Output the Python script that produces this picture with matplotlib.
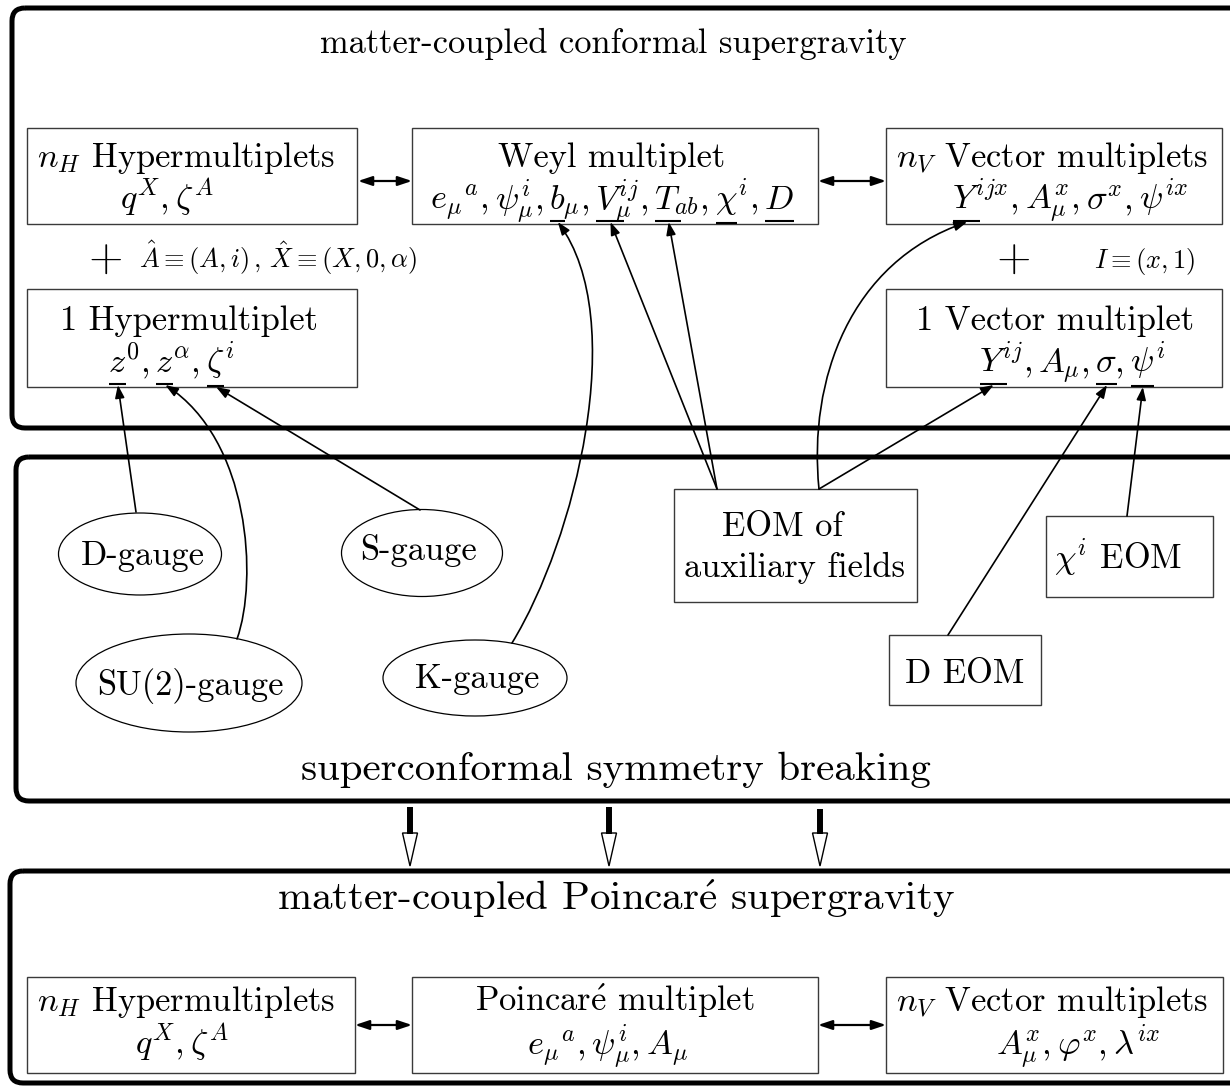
import matplotlib
matplotlib.use('Agg')
import matplotlib.pyplot as plt
from matplotlib.patches import FancyBboxPatch, Rectangle, Ellipse, FancyArrowPatch, Polygon
from matplotlib.path import Path

plt.rcParams['font.family'] = ['cmr10', 'DejaVu Serif']
plt.rcParams['mathtext.fontset'] = 'cm'
plt.rcParams['axes.unicode_minus'] = False

# ---------------- content ----------------
section_titles = ["matter-coupled conformal supergravity",
                  "superconformal symmetry breaking",
                  r"matter-coupled Poincar$\mathrm{\acute{e}}$ supergravity"]

top_box_titles = [r"$n_H$ Hypermultiplets", "Weyl multiplet", r"$n_V$ Vector multiplets",
                  "1 Hypermultiplet", "1 Vector multiplet"]
# field pieces: (tex, underlined base, key)
hyper_fields = [(r"$q^X,$", None, None), (r"$\zeta^A$", None, None)]
weyl_fields = [(r"$e_\mu{}^a,$", None, None), (r"$\psi^i_\mu,$", None, None),
               (r"$b_\mu,$", r"$b$", "b"), (r"$V^{ij}_\mu,$", r"$V$", "V"),
               (r"$T_{ab},$", r"$T$", "T"), (r"$\chi^i,$", r"$\chi$", "chi"),
               (r"$D$", r"$D$", "D")]
vector_fields = [(r"$Y^{ijx},$", r"$Y$", "Yx"), (r"$A^x_\mu,$", None, None),
                 (r"$\sigma^x,$", None, None), (r"$\psi^{ix}$", None, None)]
hyper1_fields = [(r"$z^0,$", r"$z$", "z0"), (r"$z^\alpha,$", r"$z$", "za"),
                 (r"$\zeta^i$", r"$\zeta$", "zeta")]
vector1_fields = [(r"$Y^{ij},$", r"$Y$", "Y"), (r"$A_\mu,$", None, None),
                  (r"$\sigma,$", r"$\sigma$", "sigma"), (r"$\psi^i$", r"$\psi$", "psi")]
index_notes = [r"$\hat{A}\equiv(A,i)\,,\,\hat{X}\equiv(X,0,\alpha)$", r"$I\equiv(x,1)$"]

gauge_labels = ["D-gauge", "S-gauge", "SU(2)-gauge", "K-gauge"]
eom_labels = [["EOM of", "auxiliary fields"], [r"$\chi^i$ EOM"], ["D EOM"]]

bottom_box_titles = [r"$n_H$ Hypermultiplets", r"Poincar$\mathrm{\acute{e}}$ multiplet",
                     r"$n_V$ Vector multiplets"]
bottom_fields = [r"$q^X, \zeta^A$", r"$e_\mu{}^a, \psi^i_\mu, A_\mu$",
                 r"$A^x_\mu, \varphi^x, \lambda^{ix}$"]

# ---------------- figure ----------------
W, H = 1230, 1086
fig = plt.figure(figsize=(W / 100, H / 100), dpi=100)
ax = fig.add_axes([0, 0, 1, 1])
ax.set_xlim(0, W)
ax.set_ylim(H, 0)
ax.axis('off')
renderer = fig.canvas.get_renderer()

FS = 24.8
anchors = {}


def draw_pieces(pieces, xc, yb, fs=FS, gap=6):
    texts, widths = [], []
    for tex, base, key in pieces:
        t = ax.text(0, yb, tex, fontsize=fs, ha='left', va='baseline')
        widths.append(t.get_window_extent(renderer).width)
        texts.append(t)
    total = sum(widths) + gap * (len(pieces) - 1)
    x = xc - total / 2
    _, ybd = ax.transData.transform((0, yb))
    for (tex, base, key), t, w in zip(pieces, texts, widths):
        t.set_x(x)
        if base:
            tb = ax.text(0, yb, base, fontsize=fs, ha='left', va='baseline')
            bb = tb.get_window_extent(renderer)
            tb.remove()
            desc = max(ybd - bb.y0, 0)
            uy = yb + desc + 5
            ax.plot([x + 1, x + bb.width], [uy, uy], color='black', lw=1.5,
                    solid_capstyle='butt')
            anchors[key] = (x + bb.width / 2 + 1, uy + 1)
        x += w + gap


def frame(x0, y0, x1, y1):
    ax.add_patch(Rectangle((x0, y0), x1 - x0, y1 - y0, fill=False,
                           edgecolor='#3a3a3a', lw=1.0))


# outer rounded sections
for (x0, y0, x1, y1) in [(12, 8, 1262, 428), (16, 457, 1262, 801), (10, 871, 1262, 1083)]:
    ax.add_patch(FancyBboxPatch((x0, y0), x1 - x0, y1 - y0,
                                boxstyle='round,pad=0,rounding_size=13',
                                fill=False, edgecolor='black', lw=3.6))

# section titles
for title, (xc, yb), fs in zip(section_titles, [(613, 53), (616, 780), (616, 910)],
                               [FS, 29.5, 29.5]):
    ax.text(xc, yb, title, fontsize=fs, ha='center', va='baseline')

# top multiplet boxes
top_frames = [(27, 128, 357, 224), (412, 128, 818, 224), (886, 128, 1222, 224),
              (27, 289, 357, 387), (886, 289, 1222, 387)]
for fr in top_frames:
    frame(*fr)
title_pos = [(186, 167), (612, 167), (1052, 167), (189, 330), (1055, 330)]
for t, (xc, yb) in zip(top_box_titles, title_pos):
    ax.text(xc, yb, t, fontsize=FS, ha='center', va='baseline')
draw_pieces(hyper_fields, 167, 209)
draw_pieces(weyl_fields, 612, 209)
draw_pieces(vector_fields, 1070, 209)
draw_pieces(hyper1_fields, 171, 372)
draw_pieces(vector1_fields, 1072, 372)

# plus signs and index notes
ax.text(105, 260, r"$+$", fontsize=32, ha='center', va='center')
ax.text(1013, 260, r"$+$", fontsize=32, ha='center', va='center')
ax.text(139, 268, index_notes[0], fontsize=19, ha='left', va='baseline')
ax.text(1094, 268, index_notes[1], fontsize=19, ha='left', va='baseline')

# double arrows
dbl = dict(arrowstyle='<|-|>,head_length=0.6,head_width=0.2', mutation_scale=14,
           lw=1.6, color='black', shrinkA=0, shrinkB=0)
for (xa, xb, y) in [(358, 412, 181), (818, 886, 181), (355, 412, 1025), (818, 886, 1025)]:
    ax.add_patch(FancyArrowPatch((xa, y), (xb, y), **dbl))

# gauge ellipses
ell = [(140, 554, 163, 82), (422, 553, 161, 87), (189, 683, 226, 98), (475, 678, 184, 76)]
lab_pos = [(143, 565), (419, 560), (190, 695), (477, 688)]
for (cx, cy, w, h), lab, (tx, ty) in zip(ell, gauge_labels, lab_pos):
    ax.add_patch(Ellipse((cx, cy), w, h, fill=False, edgecolor='black', lw=0.9))
    ax.text(tx, ty, lab, fontsize=FS, ha='center', va='baseline')

# EOM boxes
frame(674, 489, 917, 602)
ax.text(783, 536, eom_labels[0][0], fontsize=FS, ha='center', va='baseline')
ax.text(794, 577, eom_labels[0][1], fontsize=FS, ha='center', va='baseline')
frame(1046, 516, 1213, 597)
ax.text(1118, 569, eom_labels[1][0], fontsize=FS, ha='center', va='baseline')
frame(889, 635, 1041, 705)
ax.text(965, 683, eom_labels[2][0], fontsize=FS, ha='center', va='baseline')

# connecting arrows
arr = dict(arrowstyle='-|>,head_length=0.55,head_width=0.2', mutation_scale=14,
           lw=1.2, color='black', shrinkA=0, shrinkB=0)
straight = [((136, 512), 'z0'), ((420, 510), 'zeta'), ((717, 489), 'V'),
            ((717, 489), 'T'), ((819, 489), 'Y'), ((948, 635), 'sigma'),
            ((1127, 516), 'psi')]
for src, key in straight:
    ax.add_patch(FancyArrowPatch(src, anchors[key], **arr))

curves = [((237, 639), (258, 580), (250, 440), 'za'),
          ((512, 643), (575, 540), (630, 320), 'b'),
          ((819, 489), (808, 380), (850, 262), 'Yx')]
for p0, c1, c2, key in curves:
    path = Path([p0, c1, c2, anchors[key]],
                [Path.MOVETO, Path.CURVE4, Path.CURVE4, Path.CURVE4])
    ax.add_patch(FancyArrowPatch(path=path, **arr))

# hollow arrows between sections
for x, y0 in [(410, 807), (609, 807), (820, 809)]:
    ax.plot([x, x], [y0, 834], color='black', lw=4.3, solid_capstyle='butt')
    ax.add_patch(Polygon([(x - 7.5, 833), (x + 7.5, 833), (x, 866)], closed=True,
                         facecolor='white', edgecolor='black', lw=1.0))

# bottom multiplet boxes
bottom_frames = [(27, 977, 355, 1073), (412, 977, 818, 1073), (886, 977, 1223, 1073)]
for fr in bottom_frames:
    frame(*fr)
for t, f, xt, xf in zip(bottom_box_titles, bottom_fields, [186, 615, 1052], [182, 608, 1078]):
    ax.text(xt, 1011, t, fontsize=FS, ha='center', va='baseline')
    ax.text(xf, 1054, f, fontsize=FS, ha='center', va='baseline')

fig.savefig('out.png', dpi=100)
